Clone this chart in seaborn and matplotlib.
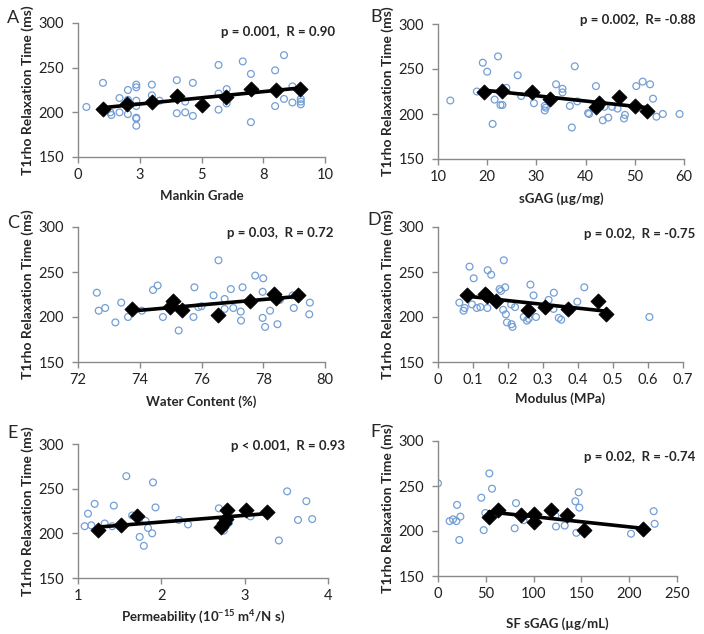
import numpy as np
import matplotlib
matplotlib.use("Agg")
import matplotlib.pyplot as plt
import seaborn as sns

# ---- data ----
# A: Mankin grade
a_cx = [0.34, 1.01, 1.35, 1.31, 1.68, 1.68, 2.02, 2.02, 2.02, 2.36, 2.36, 2.36, 2.36, 2.36, 2.36, 2.36,
        2.99, 2.99, 3.30, 4.0, 4.0, 4.34, 4.34, 4.65, 4.65, 5.69, 5.69, 5.69, 6.02, 6.02, 6.67, 7.0, 7.0,
        7.98, 7.98, 8.34, 8.34, 8.68, 8.68, 9.02, 9.02, 9.02]
a_cy = [206, 233, 197, 200, 216, 200, 225, 198, 214, 231, 228, 213, 207, 194, 193, 185,
        231, 219, 213, 236, 199, 212, 200, 233, 196, 253, 221, 203, 226, 210, 257, 243, 189,
        247, 207, 264, 215, 229, 211, 215, 212, 209]
a_dx = [1, 2, 3, 4, 5, 6, 7, 8, 9]
a_dy = [203.5, 209.4, 211.6, 218.7, 208.3, 217.6, 225.7, 225.0, 226.5]

# B: sGAG
b_cx = [12.5, 17.9, 19.1, 20.0, 21.5, 21.1, 22.2, 22.7, 23.1, 23.9, 26.2, 26.9, 29.5, 31.7, 31.7, 31.9,
        34.0, 35.3, 35.3, 36.8, 37.8, 38.3, 37.2, 40.5, 40.7, 42.1, 43.8, 43.5, 44.6, 45.4, 46.5, 47.8,
        48.0, 50.3, 51.6, 53.1, 53.7, 54.4, 55.7, 59.1]
b_cy = [215, 225, 257, 247, 216, 189, 264, 210, 210, 229, 243, 220, 212, 209, 204, 207,
        233, 228, 224, 209, 253, 214, 185, 201, 200, 231, 208, 193, 196, 208, 206, 195,
        199, 231, 236, 233, 217, 197, 200, 200]
b_dx = [19.4, 23.0, 29.2, 32.8, 42.2, 42.7, 46.7, 50.0, 52.5]
b_dy = [224.3, 225.7, 224.3, 216.8, 207.5, 212.4, 218.7, 209.0, 203.5]

# C: water content
c_cx = [72.61, 72.67, 72.88, 73.21, 73.4, 73.62, 74.07, 74.43, 74.58, 74.75, 75.26, 75.77, 75.74, 75.9,
        76.0, 76.39, 76.55, 76.75, 76.75, 76.95, 77.03, 77.27, 77.28, 77.33, 77.74, 77.98, 78.0, 77.98,
        78.06, 78.22, 78.46, 78.54, 78.95, 78.99, 79.51, 79.49]
c_cy = [227, 207, 210, 194, 216, 200, 207, 230, 235, 200, 185, 233, 200, 211,
        212, 224, 263, 220, 209, 231, 210, 206, 196, 233, 246, 228, 243, 199,
        189, 207, 192, 219, 224, 210, 216, 203]
c_dx = [73.75, 74.99, 75.07, 75.36, 76.55, 77.57, 78.36, 78.4, 79.12]
c_dy = [208.5, 211.1, 217.8, 208.1, 202.6, 217.8, 225.2, 221.5, 224.0]

# D: modulus
d_cx = [0.061, 0.076, 0.073, 0.09, 0.097, 0.102, 0.111, 0.121, 0.141, 0.142, 0.152, 0.176, 0.18, 0.186,
        0.188, 0.192, 0.194, 0.197, 0.209, 0.21, 0.213, 0.22, 0.245, 0.254, 0.259, 0.264, 0.273, 0.28,
        0.316, 0.331, 0.33, 0.345, 0.352, 0.378, 0.398, 0.418, 0.604]
d_cy = [216, 210, 207, 256, 214, 243, 210, 211, 210, 252, 247, 231, 229, 208,
        263, 233, 203, 194, 214, 192, 189, 211, 200, 196, 198, 236, 224, 200,
        219, 227, 209, 199, 197, 207, 217, 233, 200]
d_dx = [0.083, 0.133, 0.14, 0.166, 0.257, 0.307, 0.371, 0.456, 0.481]
d_dy = [224.0, 225.9, 223.0, 217.8, 208.0, 211.0, 208.5, 217.8, 203.0]

# E: permeability
e_cx = [1.08, 1.12, 1.2, 1.16, 1.32, 1.41, 1.43, 1.58, 1.65, 1.74, 1.79, 1.81, 1.84, 1.89, 1.9, 1.93,
        2.21, 2.32, 2.69, 2.75, 2.81, 3.07, 3.41, 3.51, 3.64, 3.74, 3.81]
e_cy = [208, 222, 233, 209, 211, 208, 231, 264, 220, 196, 186, 214, 206, 200, 257, 229,
        215, 210, 228, 203, 212, 219, 192, 247, 215, 236, 216]
e_dx = [1.24, 1.52, 1.71, 2.71, 2.75, 2.77, 2.79, 3.01, 3.27]
e_dy = [203.3, 209.0, 219.0, 207.0, 211.5, 216.4, 225.6, 226.4, 223.8]

# F: synovial fluid sGAG
f_cx = [0, 12.2, 15.7, 19.9, 19.2, 23.4, 22.3, 45.3, 47.8, 49.5, 53.7, 56.5, 81.6, 80.2, 89.6,
        122.7, 123.4, 132.5, 143.7, 147.1, 147.8, 144.7, 201.9, 225.6, 226.6]
f_cy = [253, 211, 213, 229, 211, 216, 190, 237, 201, 220, 264, 247, 231, 203, 212,
        217, 205, 206, 233, 243, 226, 198, 197, 222, 208]
f_dx = [53.7, 62.8, 86.8, 100, 100, 118.5, 134.9, 152.4, 214]
f_dy = [215.6, 223.7, 217.4, 218.5, 210.0, 223.0, 217.4, 201.5, 202.6]

letters = ["A", "B", "C", "D", "E", "F"]
xlabels = ["Mankin Grade", "sGAG (\u00b5g/mg)", "Water Content (%)", "Modulus (MPa)",
           "Permeability (10$^{-15}$ m$^4$/N s)", "SF sGAG (\u00b5g/mL)"]
stats = ["p = 0.001,  R = 0.90", "p = 0.002,  R= -0.88", "p = 0.03,  R = 0.72",
         "p = 0.02,  R = -0.75", "p < 0.001,  R = 0.93", "p = 0.02,  R = -0.74"]
xticks = [[0, 2.5, 5, 7.5, 10], [10, 20, 30, 40, 50, 60], [72, 74, 76, 78, 80],
          [0, 0.1, 0.2, 0.3, 0.4, 0.5, 0.6, 0.7], [1, 2, 3, 4], [0, 50, 100, 150, 200, 250]]
xticklabels = [["0", "3", "5", "8", "10"], None, None,
               ["0", "0.1", "0.2", "0.3", "0.4", "0.5", "0.6", "0.7"], None, None]
yticks = [150, 200, 250, 300]

sns.set_style("white")
plt.rcParams["font.family"] = ["Lato", "DejaVu Sans"]
plt.rcParams["mathtext.fontset"] = "custom"
plt.rcParams["mathtext.rm"] = "Lato:bold"
plt.rcParams["mathtext.it"] = "Lato:bold"

W, H = 704, 634
fig = plt.figure(figsize=(W / 100, H / 100), dpi=100)

# axes boxes in pixels: left, top, right, bottom
boxes = [(78, 23, 325, 157), (438, 24, 684, 159),
         (78, 227, 325, 362), (438, 227, 683, 362),
         (78, 444, 328, 578), (438, 441, 677, 576)]
letter_pos = [(7, 23), (370, 22), (7, 228), (367, 225), (7, 438), (370, 437)]
stat_pos = [(335, 32), (696, 20), (333, 233), (695, 234), (345, 446), (695, 457)]
xlabel_pad = [6, 6, 6, 4, 4, 12]

panels = [(a_cx, a_cy, a_dx, a_dy), (b_cx, b_cy, b_dx, b_dy), (c_cx, c_cy, c_dx, c_dy),
          (d_cx, d_cy, d_dx, d_dy), (e_cx, e_cy, e_dx, e_dy), (f_cx, f_cy, f_dx, f_dy)]

blue = "#739fd6"
grey = "#8a8a8a"

for i, (cx, cy, dx, dy) in enumerate(panels):
    l, t, r, b = boxes[i]
    ax = fig.add_axes([l / W, 1 - b / H, (r - l) / W, (b - t) / H])

    sns.scatterplot(x=cx, y=cy, ax=ax, marker="o", s=24, facecolors="none",
                    edgecolors=blue, linewidth=0.9, zorder=2)
    sns.regplot(x=np.array(dx), y=np.array(dy), ax=ax, scatter=False, ci=None,
                color="black", line_kws={"lw": 2.6, "zorder": 3})
    sns.scatterplot(x=dx, y=dy, ax=ax, marker="D", s=60, color="black",
                    edgecolor="black", linewidth=0.5, zorder=4)

    ax.set_xlim(xticks[i][0], xticks[i][-1])
    ax.set_ylim(150, 300)
    ax.set_xticks(xticks[i])
    if xticklabels[i] is not None:
        ax.set_xticklabels(xticklabels[i])
    ax.set_yticks(yticks)

    sns.despine(ax=ax)
    for sp in ["left", "bottom"]:
        ax.spines[sp].set_color(grey)
        ax.spines[sp].set_linewidth(1.0)
    ax.tick_params(direction="out", length=4, width=1, color=grey,
                   labelsize=10.5, labelcolor="#222222")
    ax.tick_params(axis="y", pad=6)
    ax.tick_params(axis="x", pad=4)
    ax.tick_params(axis="both", which="both", bottom=True, left=True)

    ax.set_xlabel(xlabels[i], fontsize=9.5, fontweight="bold", labelpad=xlabel_pad[i])
    ax.set_ylabel("T1rho Relaxation Time (ms)", fontsize=10, fontweight="bold", labelpad=3)

    lx, ly = letter_pos[i]
    fig.text(lx / W, 1 - ly / H, letters[i], fontsize=13, ha="left", va="baseline")
    sx, sy = stat_pos[i]
    fig.text(sx / W, 1 - sy / H, stats[i], fontsize=9.5, fontweight="bold",
             ha="right", va="center")

fig.savefig("out.png", dpi=100)
